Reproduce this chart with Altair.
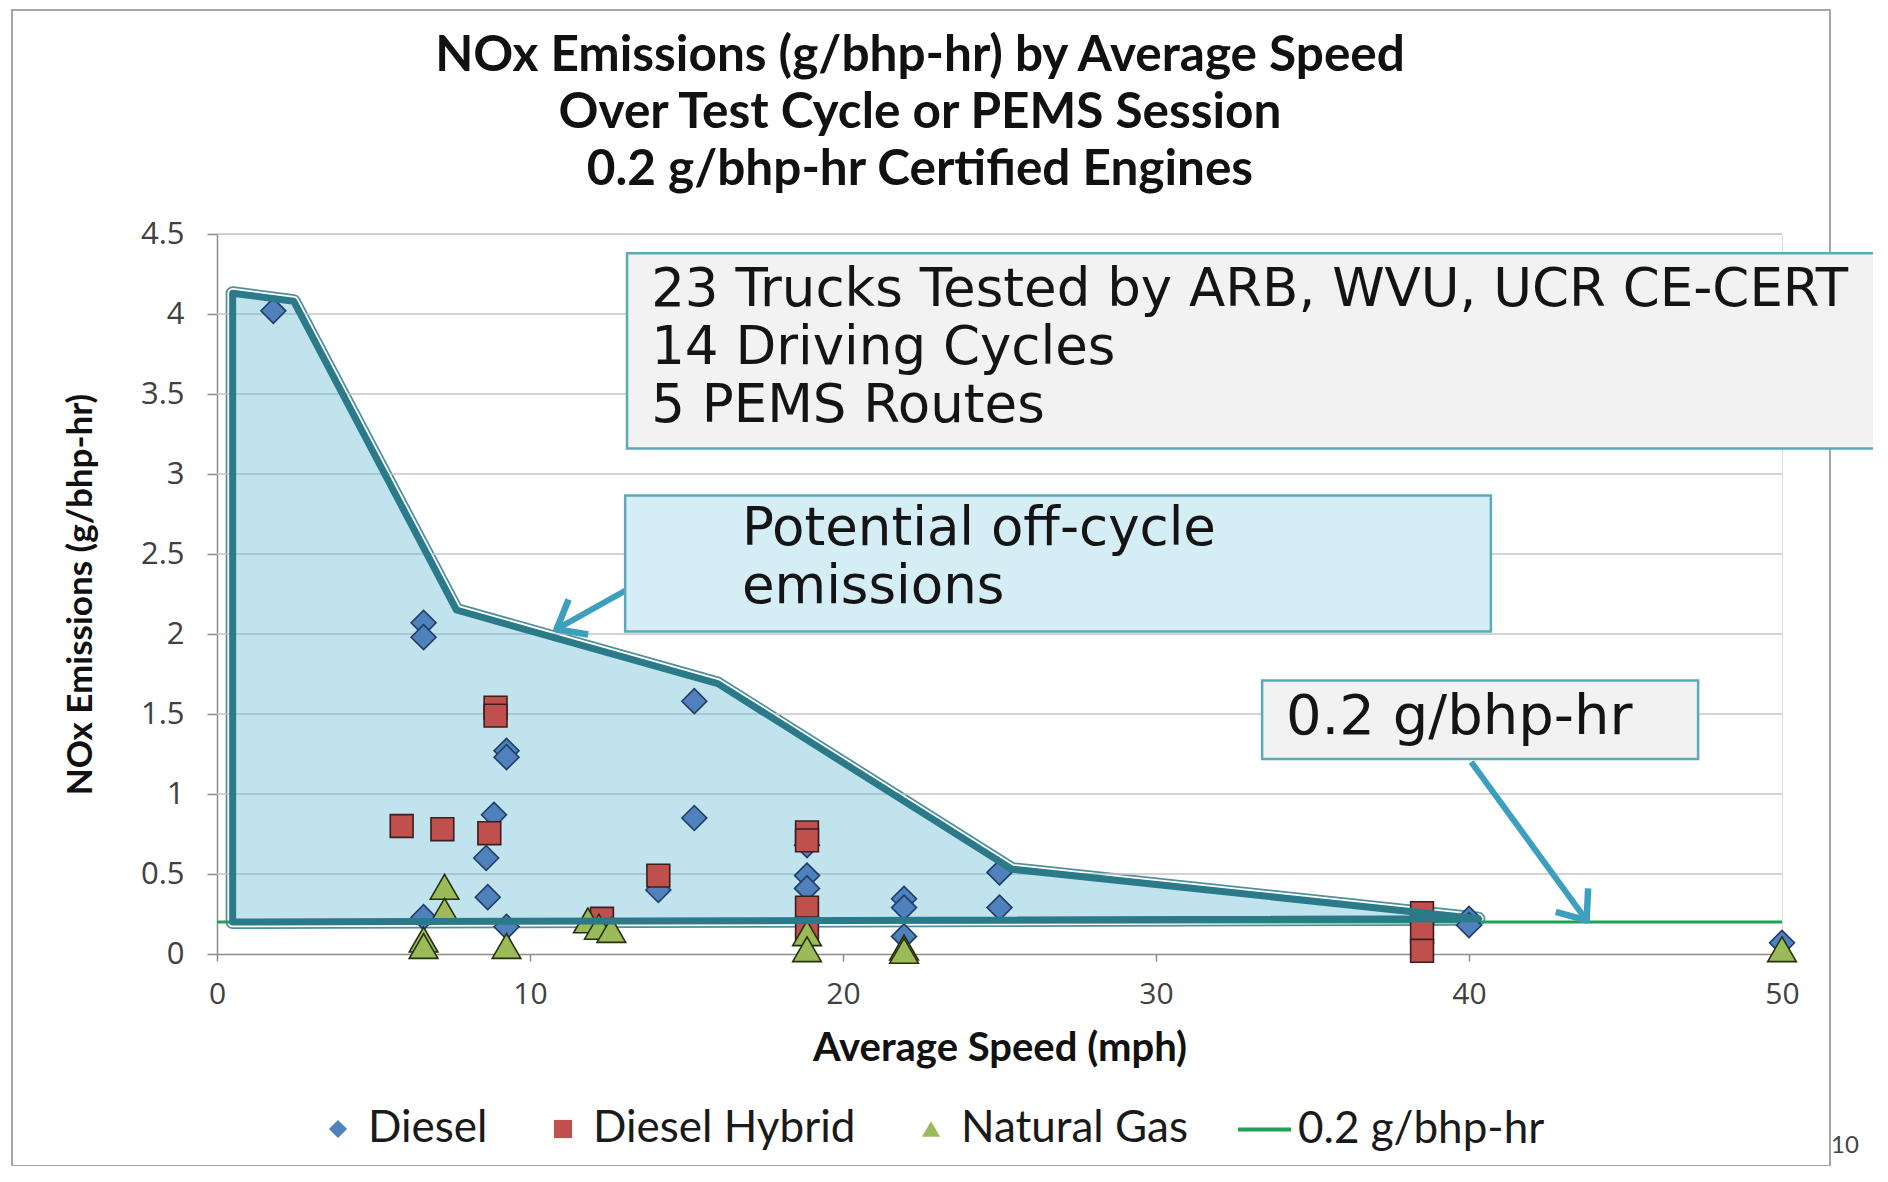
import math
import altair as alt
import pandas as pd

# ---------------- data ----------------
types = ["Diesel", "Diesel Hybrid", "Natural Gas"]

diesel_x = [1.8, 6.6, 6.6, 15.25, 15.25, 9.25, 9.25, 8.85, 8.6, 8.65, 6.6, 9.25,
            14.1, 18.85, 18.85, 18.85, 21.95, 21.95, 21.95, 25.0, 25.0, 40.0, 40.0, 50.0]
diesel_y = [4.02, 2.07, 1.98, 1.58, 0.85, 1.27, 1.23, 0.87, 0.6, 0.355, 0.23, 0.17,
            0.4, 0.68, 0.49, 0.41, 0.345, 0.29, 0.11, 0.51, 0.29, 0.22, 0.18, 0.07]
hybrid_x = [5.9, 7.2, 8.7, 8.9, 8.9, 12.3, 14.1, 18.85, 18.85, 18.85, 18.85, 38.5, 38.5, 38.5]
hybrid_y = [0.8, 0.78, 0.755, 1.54, 1.49, 0.22, 0.49, 0.76, 0.71, 0.29, 0.16, 0.255, 0.135, 0.02]
ng_x = [7.27, 7.27, 6.6, 6.6, 9.25, 11.85, 12.2, 12.6, 18.85, 18.85, 21.95, 21.95, 50.0]
ng_y = [0.42, 0.27, 0.09, 0.05, 0.05, 0.21, 0.17, 0.15, 0.13, 0.03, 0.04, 0.02, 0.03]

limit_name = "0.2 g/bhp-hr"
limit_value = 0.2

# envelope of "potential off-cycle emissions" (upper boundary; lower edge at 0.2)
env_x = [0.5, 2.45, 7.65, 16.0, 25.4, 40.3]
env_y = [4.13, 4.08, 2.15, 1.69, 0.53, 0.22]

# annotation arrows (tail -> head) in data units
arrow_x = [16.05, 40.07]
arrow_y = [2.6, 1.2]
arrow_x2 = [10.85, 43.76]
arrow_y2 = [2.03, 0.21]

# annotation boxes in data units
box_x = [13.1, 13.04, 33.39]
box_x2 = [54.0, 40.7, 47.32]
box_y = [4.38, 2.866, 1.709]
box_y2 = [3.16, 2.016, 1.219]
box_fill = ["#f2f2f2", "#d5edf4", "#f2f2f2"]
box_text = [["23 Trucks Tested by ARB, WVU, UCR CE-CERT", "14 Driving Cycles", "5 PEMS Routes"],
            ["Potential off-cycle", "emissions"],
            ["0.2 g/bhp-hr"]]
box_font = [53, 53, 56]
text_x = [13.87, 16.77, 34.15]
text_y = [4.153, 2.656, 1.48]   # centre of the first line

title_lines = ["NOx Emissions (g/bhp-hr) by Average Speed",
               "Over Test Cycle or PEMS Session",
               "0.2 g/bhp-hr Certified Engines"]
x_ticks = [0, 10, 20, 30, 40, 50]
y_ticks = [0, 0.5, 1, 1.5, 2, 2.5, 3, 3.5, 4, 4.5]
grid_vals = [0.5, 1, 1.5, 2, 2.5, 3, 3.5, 4, 4.5]

point_fill = ["#4f81bd", "#c0504d", "#9bbb59"]
point_stroke = ["#1f3d66", "#3a1f1f", "#25300f"]
point_shape = ["diamond", "square", "triangle-up"]
point_size = [620, 520, 820]

# ---------------- layout ----------------
W, H = 1565, 720
XMAX, YMAX = 50, 4.5

pts = pd.DataFrame(
    [{"x": a, "y": b, "type": "Diesel"} for a, b in zip(diesel_x, diesel_y)]
    + [{"x": a, "y": b, "type": "Diesel Hybrid"} for a, b in zip(hybrid_x, hybrid_y)]
    + [{"x": a, "y": b, "type": "Natural Gas"} for a, b in zip(ng_x, ng_y)]
)
env_area = pd.DataFrame({"x": env_x, "y": env_y, "y2": [limit_value] * len(env_x)})
path_x = [env_x[0]] + env_x + [env_x[0]]
path_y = [limit_value] + env_y + [limit_value]
env_path = pd.DataFrame({"x": path_x, "y": path_y, "i": list(range(len(path_x)))})

angles = []
for a, b, c, d in zip(arrow_x, arrow_y, arrow_x2, arrow_y2):
    dx = (c - a) * W / XMAX
    dy = -(d - b) * H / YMAX
    angles.append(math.degrees(math.atan2(dy, dx)) % 360)
arrows = pd.DataFrame({"x": arrow_x, "y": arrow_y, "x2": arrow_x2, "y2": arrow_y2, "ang": angles})

xs = alt.Scale(domain=[0, XMAX], nice=False, zero=False)
ys = alt.Scale(domain=[0, YMAX], nice=False, zero=False)

X = alt.X("x:Q", scale=xs, axis=alt.Axis(
    values=x_ticks, format="d", grid=False, labelFlush=False, domainColor="#8c8c8c", domainWidth=1.5,
    tickColor="#8c8c8c", tickWidth=1.5, tickSize=7, labelFont="Open Sans", labelFontSize=30,
    labelColor="#404040", labelPadding=18, title="Average Speed (mph)", titleFont="Lato",
    titleFontSize=40, titleFontWeight="bold", titleColor="#111111", titlePadding=19))
Y = alt.Y("y:Q", scale=ys, axis=alt.Axis(
    values=y_ticks, format="~g", grid=False, labelFlush=False, domainColor="#8c8c8c", domainWidth=1.5,
    tickColor="#8c8c8c", tickWidth=1.5, tickSize=10, labelFont="Open Sans", labelFontSize=31,
    labelColor="#404040", labelPadding=23, title="NOx Emissions (g/bhp-hr)", titleFont="Lato",
    titleFontSize=35, titleFontWeight="bold", titleColor="#111111", titlePadding=42))

frame = alt.Chart(pd.DataFrame({"a": [0]})).mark_rect(
    fillOpacity=0, stroke="#a6a6a6", strokeWidth=2).encode(
    x=alt.value(-205), x2=alt.value(1613), y=alt.value(-224), y2=alt.value(932))

title = alt.Chart(pd.DataFrame({"t": [title_lines]})).mark_text(
    font="Lato", fontSize=49.5, fontWeight="bold", lineHeight=57, align="center",
    baseline="middle", color="#111111").encode(
    x=alt.value(703), y=alt.value(-178), text="t")

base_path = alt.Chart(env_path).encode(x=X, y=Y, order="i:Q")
halo = base_path.mark_line(color="#4f8f9c", strokeWidth=14, strokeJoin="round", strokeCap="round")
white = base_path.mark_line(color="#ffffff", strokeWidth=10.5, strokeJoin="round", strokeCap="round")
area_white = alt.Chart(env_area).mark_area(color="#ffffff", opacity=1).encode(
    x="x:Q", y="y:Q", y2="y2:Q")

grid = alt.Chart(pd.DataFrame({"y": grid_vals})).mark_rule(
    color="#c4c4c4", strokeWidth=1.5).encode(y="y:Q")

limit = alt.Chart(pd.DataFrame({"x": [0], "x2": [XMAX], "y": [limit_value], "name": [limit_name]})
                  ).mark_rule(strokeWidth=3).encode(
    x="x:Q", x2="x2:Q", y="y:Q",
    color=alt.Color("name:N", scale=alt.Scale(domain=[limit_name], range=["#22a055"]),
                    legend=alt.Legend(title=None, orient="none", legendX=1019, legendY=867,
                                      direction="horizontal", symbolType="stroke",
                                      symbolSize=2809, symbolStrokeWidth=4, labelOffset=5,
                                      labelFont="Lato", labelFontSize=44, labelColor="#1a1a1a",
                                      labelLimit=0, padding=0)))

leg = alt.Legend(title=None, orient="none", legendX=99, legendY=873, direction="horizontal",
                 symbolSize=330, symbolStrokeWidth=0, labelOffset=8, columnPadding=53,
                 labelFont="Lato", labelFontSize=44, labelColor="#1a1a1a", labelLimit=0, padding=0)

point_layers = []
for k, tname in enumerate(types):
    point_layers.append(
        alt.Chart(pts).transform_filter(alt.datum.type == tname).mark_point(
            filled=True, size=point_size[k], strokeWidth=1.6, opacity=1,
            stroke=point_stroke[k]).encode(
            x="x:Q", y="y:Q",
            fill=alt.Fill("type:N", scale=alt.Scale(domain=types, range=point_fill), legend=leg),
            shape=alt.Shape("type:N", scale=alt.Scale(domain=types, range=point_shape), legend=leg),
        )
    )

area_tint = alt.Chart(env_area).mark_area(color="#5bb5cf", opacity=0.38).encode(
    x="x:Q", y="y:Q", y2="y2:Q")
teal = base_path.mark_line(color="#2b7a89", strokeWidth=7, strokeJoin="round", strokeCap="round")

shafts = alt.Chart(arrows).mark_rule(color="#3d9fbe", strokeWidth=6).encode(
    x="x:Q", y="y:Q", x2="x2:Q", y2="y2:Q")
heads = alt.Chart(arrows).mark_point(
    shape="M-1,-0.8L0,0L-1,0.8", filled=False, size=2500, strokeWidth=6.5,
    color="#3d9fbe", opacity=1, strokeJoin="round").encode(
    x=alt.X("x2:Q"), y=alt.Y("y2:Q"), angle=alt.Angle("ang:Q", scale=None))

layers = [frame, title, halo, white, area_white, grid, limit, area_tint] + point_layers + [teal, shafts, heads]

for i in range(len(box_x)):
    bdf = pd.DataFrame({"x": [box_x[i]], "x2": [box_x2[i]], "y": [box_y[i]], "y2": [box_y2[i]]})
    layers.append(alt.Chart(bdf).mark_rect(fill=box_fill[i], stroke="#5aaab9", strokeWidth=2.5).encode(
        x="x:Q", x2="x2:Q", y="y:Q", y2="y2:Q"))
    tdf = pd.DataFrame({"x": [text_x[i]], "y": [text_y[i]], "t": [box_text[i]]})
    layers.append(alt.Chart(tdf).mark_text(
        align="left", baseline="middle", font="DejaVu Sans", fontSize=box_font[i], lineHeight=58,
        color="#141414").encode(x="x:Q", y="y:Q", text="t"))

page_no = alt.Chart(pd.DataFrame({"t": ["10"]})).mark_text(
    font="Lato", fontSize=24, color="#444444", align="center", baseline="middle").encode(
    x=alt.value(1628), y=alt.value(912), text="t:N")
layers.append(page_no)

chart = alt.layer(*layers).properties(
    width=W, height=H,
    autosize=alt.AutoSizeParams(type="none"),
    padding={"left": 209, "top": 226, "right": 91, "bottom": 212},
).configure_view(strokeWidth=0).configure(background="#ffffff")

chart.save("out.html", embed_options={"renderer": "svg", "actions": False})
